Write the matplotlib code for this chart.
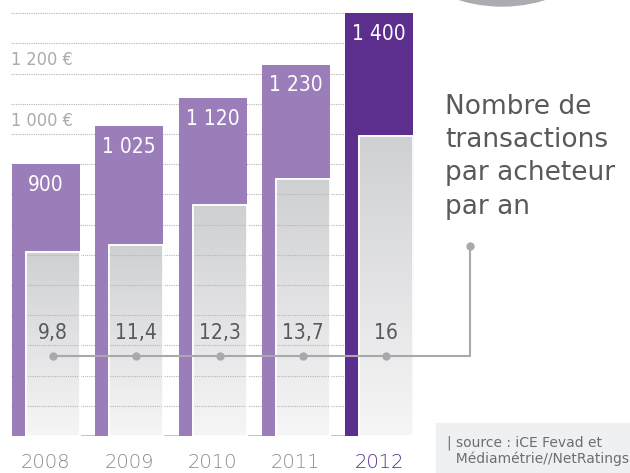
import numpy as np
import matplotlib
matplotlib.use("Agg")
import matplotlib.pyplot as plt
from matplotlib import transforms, font_manager
from matplotlib.patches import Rectangle, Ellipse
from matplotlib.colors import LinearSegmentedColormap

years = ["2008", "2009", "2010", "2011", "2012"]
basket = [900, 1025, 1120, 1230, 1400]            # panier moyen (EUR)
basket_labels = ["900", "1 025", "1 120", "1 230", "1 400"]
transactions = [9.8, 10.2, 12.3, 13.7, 16.0]     # bar heights as drawn
transaction_labels = ["9,8", "11,4", "12,3", "13,7", "16"]
euro_ticks = [1000, 1200]
euro_tick_labels = ["1 000 €", "1 200 €"]
grid_levels = list(range(100, 1500, 100))

W, H = 630, 473
PX = 83.25                  # pixels per category
EUR_PX = 0.302              # pixels per euro
TR_PX = 18.75               # pixels per transaction

light_purple = "#9b7eb9"
dark_purple = "#5c2f8e"
text_grey = "#58595b"

# look for a narrow face for the figures, otherwise a plain one smaller
narrow = None
for f in font_manager.fontManager.ttflist:
    if ("Narrow" in f.name or "Condensed" in f.name or f.stretch in ("condensed", "semi-condensed")) \
            and "Mono" not in f.name and "Serif" not in f.name:
        narrow = f
        break
if narrow is not None:
    num_font = dict(family=[narrow.name, "DejaVu Sans"], stretch=narrow.stretch)
    num_size = 15
else:
    num_font = dict(family=["Roboto", "DejaVu Sans"])
    num_size = 14

fig = plt.figure(figsize=(W / 100, H / 100), dpi=100)
rect = [0, 37 / H, 1, 436 / H]
ax = fig.add_axes(rect)
ax2 = fig.add_axes(rect)
ax2.patch.set_alpha(0)
xlim = (-46 / PX, (W - 46) / PX)
for a in (ax, ax2):
    a.set_xlim(*xlim)
    a.axis("off")
ax.set_ylim(0, 436 / EUR_PX)

x = np.arange(len(years))
bw = 68 / PX
gw = 54 / PX
goff = 7 / PX
left0 = x[0] - bw / 2
left4 = x[-1] - bw / 2

# dotted grid behind the bars
ax.hlines(grid_levels, left0 - 1 / PX, left4, colors="#b5b5b5",
          linestyles=(0, (1, 1)), linewidth=0.8, zorder=0)
ax.hlines(0, left0, x[-1] + bw / 2, colors="#bcbec0", linewidth=1.3, zorder=0.5)

colors = [light_purple] * 4 + [dark_purple]
ax.bar(x, basket, width=bw, color=colors, zorder=1)

for xi, v, lab in zip(x, basket, basket_labels):
    ax.annotate(lab, (xi, v), xytext=(0, -15), textcoords="offset points",
                ha="center", va="center", color="white", fontsize=num_size, **num_font)

for t, lab in zip(euro_ticks, euro_tick_labels):
    ax.annotate(lab, (left0 - 1 / PX, t), xytext=(0, 9.5), textcoords="offset points",
                ha="left", va="center", color="#ababab", fontsize=13, **num_font)

# grey bars: transactions per buyer
ax2.set_ylim(0, 436 / TR_PX)
grad = np.linspace(0, 1, 256).reshape(-1, 1)
cmap = LinearSegmentedColormap.from_list("g", ["#f6f6f7", "#cfd0d2"])
bars = ax2.bar(x + goff, transactions, width=gw, color="#d5d6d8",
               edgecolor="white", linewidth=1.2, zorder=2)
for i, b in enumerate(bars):
    im = ax2.imshow(grad, extent=[b.get_x(), b.get_x() + b.get_width(), 0, b.get_height()],
                    origin="lower", aspect="auto", cmap=cmap, zorder=2.1)
    im.set_clip_path(b)
    edge = Rectangle((b.get_x(), 0), b.get_width(), b.get_height(), fill=False,
                     edgecolor="white", linewidth=1.2, zorder=2.2)
    ax2.add_patch(edge)
    if i < 4:
        gl = ax2.hlines(grid_levels, left0, left4, colors="#b5b5b5",
                        linestyles=(0, (1, 1)), linewidth=0.8, zorder=2.15,
                        transform=ax.transData)
        gl.set_clip_path(b)
ax2.set_xlim(*xlim)
ax2.set_ylim(0, 436 / TR_PX)

blend = transforms.blended_transform_factory(ax2.transData, ax2.transAxes)
line_y = 80 / 436
end_x = (470 - 46) / PX
ax2.plot(list(x + goff) + [end_x, end_x], [line_y] * 6 + [190 / 436],
         color="#a7a9ac", linewidth=1.5, transform=blend, zorder=3)
ax2.plot(list(x + goff) + [end_x], [line_y] * 5 + [190 / 436], "o",
         color="#a7a9ac", markersize=5, transform=blend, zorder=3)
for xi, lab in zip(x + goff, transaction_labels):
    ax2.text(xi, 103 / 436, lab, transform=blend, ha="center", va="center",
             color=text_grey, fontsize=num_size, zorder=3, **num_font)

for xi, yr in zip(x, years):
    ax.annotate(yr, (xi, 0), xytext=(0, -12.5), textcoords="offset points",
                ha="center", va="top", fontsize=14, fontweight="light",
                color=dark_purple if yr == "2012" else "#8a8a8a",
                annotation_clip=False)

fig.text(445 / W, 1 - 94 / H, "Nombre de\ntransactions\npar acheteur\npar an",
         ha="left", va="top", fontsize=19, color=text_grey, linespacing=1.36)

# decorative circle top right and source box
fig.patches.append(Ellipse((502 / W, 1 + 140 / H), 2 * 146 / W, 2 * 146 / H,
                           transform=fig.transFigure, color="#abacaf", zorder=0))
fig.patches.append(Rectangle((436 / W, 0), 194 / W, 50 / H,
                             transform=fig.transFigure, color="#eff0f2", zorder=0))
fig.text(447 / W, 1 - 451 / H, "| source : iCE Fevad et\n  Médiamétrie//NetRatings",
         ha="left", va="center", fontsize=10, color="#6d6e71", linespacing=1.15)

fig.savefig("out.png", dpi=100)
